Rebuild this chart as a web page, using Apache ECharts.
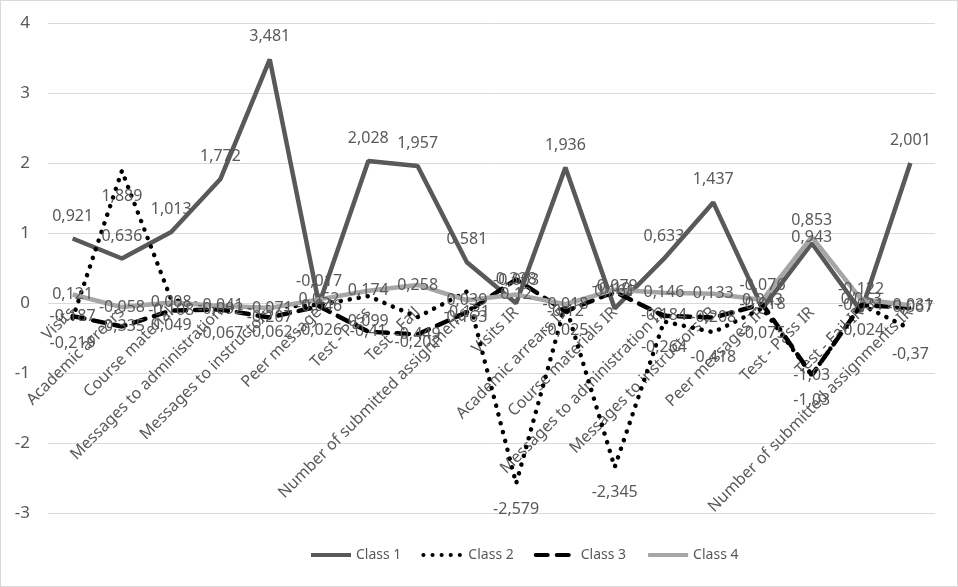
<!DOCTYPE html>
<html>
<head>
<meta charset="utf-8">
<script src="https://cdn.jsdelivr.net/npm/echarts@6/dist/echarts.min.js"></script>
<style>
  html, body { margin: 0; padding: 0; background: #fff; }
  #chart { width: 956px; height: 585px; border: 1px solid #d9d9d9; }
</style>
</head>
<body>
<div id="chart"></div>
<script>
var categories = ['Visits', 'Academic arrears', 'Course material', 'Messages to administration',
  'Messages to instructors', 'Peer message', 'Test - Pass', 'Test - Fail',
  'Number of submitted assignments', 'Visits IR', 'Academic arrears IR', 'Course materials IR',
  'Messages to administration IR', 'Messages to instructors IR', 'Peer messages IR',
  'Test - Pass IR', 'Test - Fail IR', 'Number of submitted assignments IR'];

var class1 = [0.921, 0.636, 1.013, 1.772, 3.481, -0.017, 2.028, 1.957, 0.581, -0.003, 1.936, -0.079, 0.633, 1.437, -0.076, 0.853, -0.122, 2.001];
var class2 = [-0.219, 1.889, 0.049, -0.067, -0.062, -0.026, 0.099, -0.202, 0.163, -2.579, -0.025, -2.345, -0.264, -0.418, -0.075, -1.03, -0.024, -0.37];
var class3 = [-0.187, -0.335, -0.108, -0.092, -0.207, -0.046, -0.41, -0.449, -0.131, 0.338, -0.12, 0.161, -0.184, -0.208, -0.018, -1.03, -0.031, -0.067];
var class4 = [0.121, -0.058, 0.008, -0.041, -0.071, 0.052, 0.174, 0.258, 0.039, 0.12, -0.018, 0.19, 0.146, 0.133, 0.043, 0.943, 0.053, -0.031];

var font = 'Noto Sans';
var txt = '#595959';

function comma(p) {
  return String(p.value).replace('.', ',');
}

function makeSeries(name, data, line, labelPos, dist) {
  return {
    name: name,
    type: 'line',
    data: data,
    symbol: 'circle',
    symbolSize: 1,
    showAllSymbol: true,
    lineStyle: line,
    itemStyle: { color: 'rgba(0,0,0,0)' },
    emphasis: { disabled: true },
    label: {
      show: true,
      position: labelPos,
      distance: dist,
      formatter: comma,
      color: txt,
      fontFamily: font,
      fontSize: 16
    }
  };
}

var myChart = echarts.init(document.getElementById('chart'));

// grid 0 holds the lines; grid 1 ends at the zero line and only carries the category labels
var option = {
  animation: false,
  textStyle: { fontFamily: font },
  grid: [
    { left: 47, right: 22, top: 22, bottom: 73, outerBoundsMode: 'none' },
    { left: 47, right: 22, top: 22, height: 280, outerBoundsMode: 'none' }
  ],
  legend: {
    left: 303,
    bottom: 19,
    itemWidth: 40,
    itemHeight: 12,
    itemGap: 20,
    lineStyle: { width: 4 },
    textStyle: { color: txt, fontSize: 14, fontFamily: font },
    data: ['Class 1', 'Class 2', 'Class 3', 'Class 4']
  },
  xAxis: [{
    type: 'category',
    data: categories,
    boundaryGap: true,
    axisTick: { show: false },
    axisLine: { show: false },
    axisLabel: { show: false }
  }, {
    type: 'category',
    gridIndex: 1,
    data: categories,
    boundaryGap: true,
    axisTick: { show: false },
    axisLine: { show: false },
    axisLabel: {
      interval: 0,
      rotate: 45,
      margin: 7,
      color: txt,
      fontFamily: font,
      fontSize: 16
    }
  }],
  yAxis: [{
    type: 'value',
    min: -3,
    max: 4,
    interval: 1,
    axisLine: { show: false },
    axisTick: { show: false },
    axisLabel: { color: txt, fontFamily: font, fontSize: 17, margin: 18 },
    splitLine: { lineStyle: { color: '#d9d9d9', width: 1 } }
  }, {
    type: 'value',
    gridIndex: 1,
    min: 0,
    max: 1,
    show: false
  }],
  series: [
    makeSeries('Class 1', class1, { color: '#595959', width: 4.5 }, 'top', 14),
    makeSeries('Class 2', class2, { color: '#000000', width: 4.5, type: [0.1, 9], cap: 'round' }, 'bottom', 17),
    makeSeries('Class 3', class3, { color: '#000000', width: 4.5, type: [12, 9], cap: 'round' }, 'inside', 0),
    makeSeries('Class 4', class4, { color: '#a6a6a6', width: 4.5 }, 'inside', 0)
  ]
};

myChart.setOption(option);
</script>
</body>
</html>
